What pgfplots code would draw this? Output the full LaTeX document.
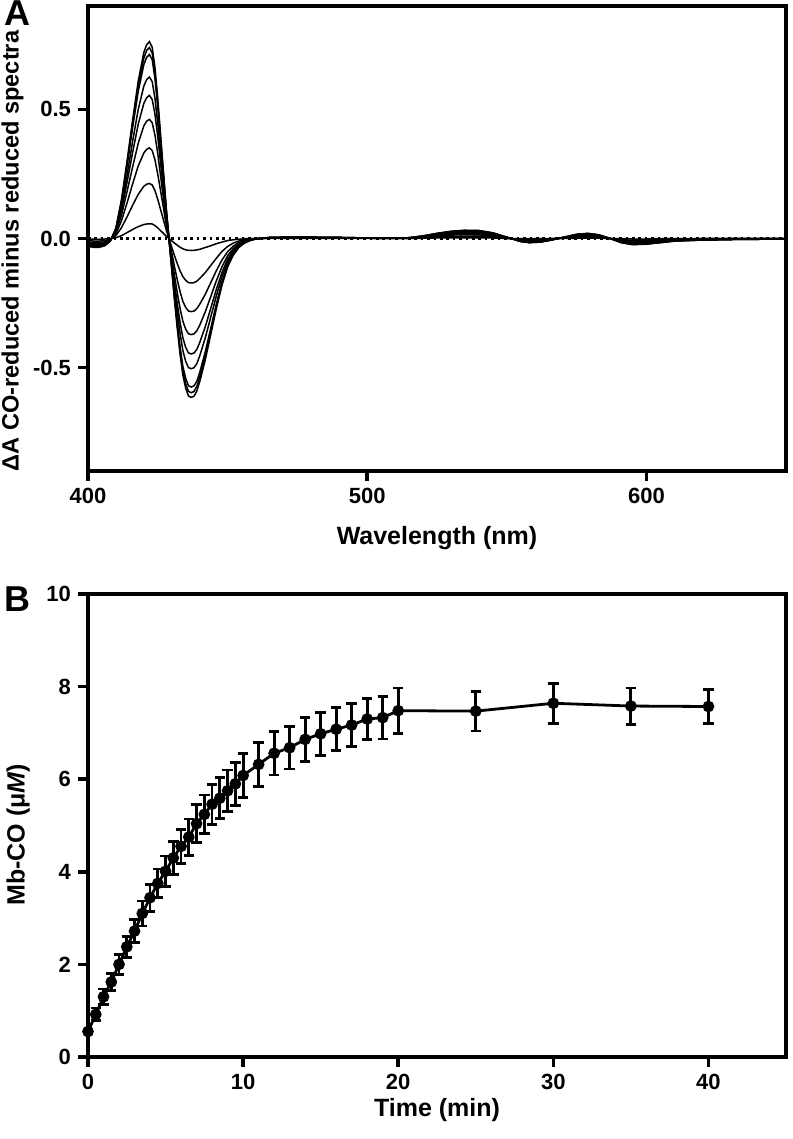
\documentclass[border=0pt]{standalone}
\usepackage{fontspec}
\setmainfont{Liberation Sans}
\usepackage{pgfplots}
\usepackage{pgfplotstable}
\pgfplotsset{compat=1.18}

% CO-reduced minus reduced difference spectra, one column per time point
\pgfplotstableread{
nm   c1     c2     c3     c4     c5     c6     c7     c8     c9
400 -0.002 -0.008 -0.014 -0.018 -0.022 -0.025 -0.028 -0.029 -0.030
402 -0.003 -0.010 -0.016 -0.021 -0.025 -0.028 -0.032 -0.033 -0.034
404 -0.003 -0.010 -0.016 -0.021 -0.025 -0.028 -0.032 -0.033 -0.034
406 -0.002 -0.008 -0.013 -0.017 -0.020 -0.023 -0.026 -0.027 -0.028
408 -0.001 -0.003 -0.005 -0.006 -0.007 -0.008 -0.009 -0.010 -0.010
410  0.003  0.011  0.018  0.024  0.029  0.033  0.037  0.039  0.040
412  0.011  0.042  0.069  0.091  0.109  0.123  0.140  0.146  0.150
414  0.023  0.084  0.138  0.182  0.218  0.246  0.281  0.291  0.300
416  0.035  0.129  0.212  0.278  0.334  0.377  0.430  0.446  0.460
418  0.046  0.171  0.281  0.369  0.443  0.500  0.570  0.592  0.610
420  0.054  0.202  0.331  0.436  0.523  0.590  0.673  0.698  0.720
421  0.056  0.210  0.345  0.454  0.545  0.615  0.701  0.728  0.750
422  0.057  0.213  0.351  0.461  0.554  0.625  0.712  0.739  0.762
423  0.056  0.207  0.340  0.448  0.538  0.607  0.692  0.718  0.740
424  0.050  0.185  0.304  0.399  0.480  0.541  0.617  0.640  0.660
425  0.041  0.151  0.248  0.327  0.393  0.443  0.505  0.524  0.540
426  0.030  0.112  0.184  0.242  0.291  0.328  0.374  0.388  0.400
427  0.020  0.073  0.120  0.157  0.189  0.213  0.243  0.252  0.260
428  0.009  0.034  0.055  0.073  0.087  0.098  0.112  0.116  0.120
429  0.000  0.000  0.000  0.000  0.000  0.000  0.000  0.000  0.000
430 -0.009 -0.034 -0.055 -0.073 -0.087 -0.098 -0.112 -0.116 -0.120
431 -0.018 -0.067 -0.110 -0.145 -0.174 -0.197 -0.224 -0.233 -0.240
432 -0.026 -0.098 -0.161 -0.212 -0.254 -0.287 -0.327 -0.340 -0.350
433 -0.034 -0.126 -0.207 -0.272 -0.327 -0.369 -0.421 -0.437 -0.450
434 -0.040 -0.148 -0.244 -0.321 -0.385 -0.435 -0.496 -0.514 -0.530
435 -0.044 -0.162 -0.267 -0.351 -0.422 -0.476 -0.542 -0.563 -0.580
436 -0.046 -0.171 -0.281 -0.369 -0.443 -0.500 -0.570 -0.592 -0.610
437 -0.046 -0.172 -0.283 -0.372 -0.447 -0.504 -0.575 -0.597 -0.615
438 -0.046 -0.171 -0.281 -0.369 -0.443 -0.500 -0.570 -0.592 -0.610
439 -0.044 -0.165 -0.271 -0.357 -0.429 -0.484 -0.552 -0.572 -0.590
440 -0.042 -0.155 -0.255 -0.336 -0.403 -0.455 -0.519 -0.538 -0.555
442 -0.035 -0.132 -0.216 -0.284 -0.342 -0.385 -0.439 -0.456 -0.470
444 -0.028 -0.104 -0.170 -0.224 -0.269 -0.303 -0.346 -0.359 -0.370
446 -0.020 -0.076 -0.124 -0.163 -0.196 -0.221 -0.252 -0.262 -0.270
448 -0.014 -0.050 -0.083 -0.109 -0.131 -0.148 -0.168 -0.175 -0.180
450 -0.008 -0.031 -0.051 -0.067 -0.080 -0.090 -0.103 -0.107 -0.110
452 -0.005 -0.018 -0.030 -0.039 -0.047 -0.053 -0.061 -0.063 -0.065
454 -0.003 -0.010 -0.016 -0.021 -0.025 -0.029 -0.033 -0.034 -0.035
456 -0.001 -0.005 -0.008 -0.011 -0.013 -0.015 -0.017 -0.017 -0.018
458 -0.001 -0.002 -0.004 -0.005 -0.006 -0.007 -0.007 -0.008 -0.008
460  0.000 -0.001 -0.001 -0.001 -0.001 -0.002 -0.002 -0.002 -0.002
465  0.000  0.001  0.002  0.002  0.003  0.003  0.004  0.004  0.004
470  0.000  0.001  0.002  0.003  0.004  0.004  0.005  0.005  0.005
480  0.000  0.001  0.002  0.003  0.004  0.004  0.005  0.005  0.005
490  0.000  0.001  0.002  0.002  0.003  0.003  0.004  0.004  0.004
500  0.000  0.001  0.001  0.001  0.001  0.002  0.002  0.002  0.002
510  0.000  0.000  0.000  0.001  0.001  0.001  0.001  0.001  0.001
515  0.000  0.001  0.001  0.002  0.002  0.002  0.003  0.003  0.003
520  0.001  0.003  0.005  0.006  0.007  0.008  0.009  0.010  0.010
525  0.002  0.006  0.009  0.012  0.015  0.016  0.019  0.019  0.020
530  0.002  0.008  0.013  0.017  0.020  0.023  0.026  0.027  0.028
535  0.002  0.009  0.015  0.019  0.023  0.026  0.030  0.031  0.032
540  0.002  0.009  0.014  0.019  0.023  0.025  0.029  0.030  0.031
545  0.002  0.006  0.010  0.013  0.016  0.018  0.021  0.021  0.022
550  0.000  0.001  0.002  0.003  0.004  0.004  0.005  0.005  0.005
555 -0.001 -0.003 -0.006 -0.007 -0.009 -0.010 -0.011 -0.012 -0.012
558 -0.001 -0.004 -0.007 -0.010 -0.012 -0.013 -0.015 -0.016 -0.016
562 -0.001 -0.004 -0.006 -0.008 -0.010 -0.011 -0.013 -0.014 -0.014
566  0.000 -0.002 -0.003 -0.004 -0.004 -0.005 -0.006 -0.006 -0.006
570  0.000  0.001  0.002  0.002  0.003  0.003  0.004  0.004  0.004
575  0.001  0.004  0.007  0.010  0.012  0.013  0.015  0.016  0.016
579  0.002  0.006  0.009  0.012  0.015  0.016  0.019  0.019  0.020
583  0.001  0.004  0.006  0.008  0.010  0.011  0.013  0.014  0.014
587  0.000  0.000  0.000  0.000  0.000  0.000  0.000  0.000  0.000
591 -0.001 -0.004 -0.007 -0.010 -0.012 -0.013 -0.015 -0.016 -0.016
595 -0.002 -0.007 -0.011 -0.015 -0.017 -0.020 -0.022 -0.023 -0.024
600 -0.002 -0.006 -0.010 -0.013 -0.016 -0.018 -0.021 -0.021 -0.022
605 -0.001 -0.004 -0.007 -0.010 -0.012 -0.013 -0.015 -0.016 -0.016
610 -0.001 -0.003 -0.005 -0.006 -0.007 -0.008 -0.009 -0.010 -0.010
620  0.000 -0.002 -0.003 -0.004 -0.004 -0.005 -0.006 -0.006 -0.006
630  0.000 -0.001 -0.002 -0.002 -0.003 -0.003 -0.004 -0.004 -0.004
640  0.000 -0.001 -0.001 -0.002 -0.002 -0.002 -0.003 -0.003 -0.003
650  0.000 -0.001 -0.001 -0.001 -0.001 -0.002 -0.002 -0.002 -0.002
}\spectra

% Mb-CO formation, mean and error
\pgfplotstableread{
t    mbco  err
0    0.55  0.05
0.5  0.92  0.14
1    1.30  0.17
1.5  1.62  0.19
2    2.00  0.21
2.5  2.38  0.23
3    2.72  0.25
3.5  3.10  0.27
4    3.44  0.29
4.5  3.75  0.31
5    4.01  0.33
5.5  4.30  0.35
6    4.55  0.37
6.5  4.75  0.39
7    5.04  0.41
7.5  5.24  0.42
8    5.46  0.43
8.5  5.59  0.44
9    5.75  0.45
9.5  5.90  0.46
10   6.08  0.47
11   6.32  0.48
12   6.56  0.47
13   6.68  0.46
14   6.86  0.47
15   6.98  0.46
16   7.08  0.46
17   7.17  0.46
18   7.30  0.45
19   7.33  0.46
20   7.48  0.49
25   7.47  0.43
30   7.64  0.43
35   7.58  0.39
40   7.57  0.37
}\kinetics

\pgfplotsset{
  panel/.style={
    width=349pt, scale only axis,
    axis line style={line width=1.8pt},
    tick style={line width=1.8pt, black},
    major tick length=5pt, tick align=outside, tick pos=left,
    ticklabel style={font=\fontsize{11}{13}\selectfont\bfseries},
    label style={font=\fontsize{12.5}{15}\selectfont\bfseries},
  },
}

\begin{document}
\begin{tikzpicture}
\path[use as bounding box] (0,0) rectangle (396pt,569.5pt);

\begin{axis}[panel,
  at={(44pt,334pt)}, anchor=south west, height=232.5pt,
  xmin=400, xmax=650, ymin=-0.9, ymax=0.9,
  xtick={400,500,600}, xticklabels={400,500,600},
  ytick={-0.5,0,0.5}, yticklabels={-0.5,0.0,0.5},
  xlabel={Wavelength (nm)},
  ylabel={ΔA CO-reduced minus reduced spectra},
  xlabel style={at={(axis description cs:0.5,-0.145)}, anchor=center},
  ylabel style={at={(axis description cs:-0.108,0.473)}, anchor=center, font=\fontsize{11.8}{14}\selectfont\bfseries},
]
\addplot[black, line width=1.3pt, dash pattern=on 1.3pt off 1.9pt] coordinates {(400,0) (650,0)};
\pgfplotsinvokeforeach{1,...,9}{
  \addplot[black, line width=0.75pt] table[x=nm, y=c#1] {\spectra};
}
\end{axis}

\begin{axis}[panel,
  at={(44pt,41pt)}, anchor=south west, height=231.5pt,
  xmin=0, xmax=45, ymin=0, ymax=10,
  xtick={0,10,20,30,40}, xticklabels={0,10,20,30,40},
  ytick={0,2,4,6,8,10}, yticklabels={0,2,4,6,8,10},
  xlabel={Time (min)},
  ylabel={Mb-CO (μ\textit{M})},
  xlabel style={at={(axis description cs:0.5,-0.115)}, anchor=center},
  ylabel style={at={(axis description cs:-0.100,0.48)}, anchor=center},
]
\addplot[black, line width=1.4pt, mark=*, mark size=2.2pt,
  error bars/.cd, y dir=both, y explicit,
  error bar style={line width=1.4pt},
  error mark options={rotate=90, mark size=2.6pt, line width=1.4pt}]
  table[x=t, y=mbco, y error=err] {\kinetics};
\end{axis}

\node[font=\fontsize{18}{20}\selectfont\bfseries] at (8.5pt,563pt) {A};
\node[font=\fontsize{18}{20}\selectfont\bfseries] at (8.5pt,270pt) {B};
\end{tikzpicture}
\end{document}
